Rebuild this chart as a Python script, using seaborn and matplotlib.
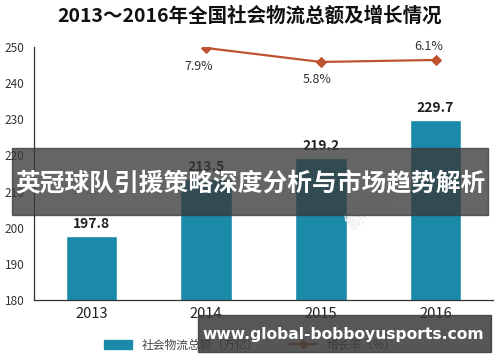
import matplotlib
matplotlib.use("Agg")
import matplotlib.pyplot as plt
import seaborn as sns
import pandas as pd
from matplotlib.patches import Rectangle
from matplotlib.lines import Line2D
from matplotlib.patches import Patch

years = ["2013", "2014", "2015", "2016"]
totals = [197.8, 213.5, 219.2, 229.7]
growth_years = ["2014", "2015", "2016"]
growth = [7.9, 5.8, 6.1]
yticks = [180, 190, 200, 210, 220, 230, 240, 250]

title = "2013～2016年全国社会物流总额及增长情况"
banner = "英冠球队引援策略深度分析与市场趋势解析"
site = "www.global-bobboyusports.com"
legend_labels = ["社会物流总额（万亿）", "增长率（%）"]

sns.set_theme(style="white")
plt.rcParams['font.family'] = ['Noto Sans CJK SC', 'DejaVu Sans']

bar_color = "#1a8aa8"
line_color = "#c0532f"

fig = plt.figure(figsize=(5, 3.62), dpi=100)
ax = fig.add_axes([34/500, 1-300/362, 459/500, 253/362])

df = pd.DataFrame({"year": years, "total": totals})
sns.barplot(data=df, x="year", y="total", color=bar_color, width=0.45,
            saturation=1, ax=ax)
ax.set_ylim(180, 250)
ax.set_xlim(-0.5, 3.5)
ax.set_yticks(yticks)
ax.set_yticklabels([str(t) for t in yticks], fontsize=8.5, color="#333333")
ax.tick_params(axis="x", labelsize=10.5, colors="#222222", length=0, pad=5)
ax.tick_params(axis="y", length=0, pad=7)
ax.set_xlabel("")
ax.set_ylabel("")
for s in ["top", "right"]:
    ax.spines[s].set_visible(False)
for s in ["left", "bottom"]:
    ax.spines[s].set_color("#333333")
    ax.spines[s].set_linewidth(0.9)

for i, v in enumerate(totals):
    ax.text(i, v + 1.4, f"{v}", ha="center", va="bottom", fontsize=10,
            fontweight="bold", color="#222222")

ax2 = ax.twinx()
gdf = pd.DataFrame({"x": [years.index(y) for y in growth_years], "g": growth})
sns.lineplot(data=gdf, x="x", y="g", ax=ax2, color=line_color, marker="D",
             markersize=5, linewidth=1.6, markeredgecolor=line_color)
ax2.set_ylim(-30, 8.05)
ax2.set_xlim(-0.5, 3.5)
ax2.axis("off")
offsets = [(-0.06, -2.85), (-0.03, -2.7), (-0.06, 2.1)]
for (xi, g), (dx, dy) in zip(zip(gdf["x"], growth), offsets):
    ax2.text(xi + dx, g + dy, f"{g}%", ha="center", va="center", fontsize=9,
             color="#333333")

fig.text(0.5, 1-16/362, title, ha="center", va="center", fontsize=14,
         fontweight="bold", color="#111111")

handles = [Patch(color=bar_color),
           Line2D([0], [0], color=line_color, marker="D", markersize=4, lw=1.6)]
fig.legend(handles, legend_labels, loc="center", bbox_to_anchor=(0.5, 1-345/362),
           ncol=2, frameon=False, fontsize=8.5, handlelength=2.4,
           columnspacing=2.5, labelcolor="#444444")

# faint watermark
fig.text(0.76, 0.45, "鲸略咨询", fontsize=15, color="#ededed", rotation=40,
         ha="center", va="center", zorder=0)

# banner overlay
fig.patches.append(Rectangle((12/500, 1-215/362), 476/500, 67/362,
                             transform=fig.transFigure, color="#3a3a3a",
                             alpha=0.78, zorder=10))
fig.text(0.5, 1-184/362, banner, ha="center", va="center", fontsize=17.8,
         fontweight="bold", color="white", zorder=11)

fig.patches.append(Rectangle((198/500, 1-352/362), 293/500, 37/362,
                             transform=fig.transFigure, color="#3a3a3a",
                             alpha=0.85, zorder=10))
fig.text(343/500, 1-334/362, site, ha="center", va="center", fontsize=11.2,
         fontweight="bold", color="white", zorder=11, family="DejaVu Sans")

fig.savefig("out.png", dpi=100)
